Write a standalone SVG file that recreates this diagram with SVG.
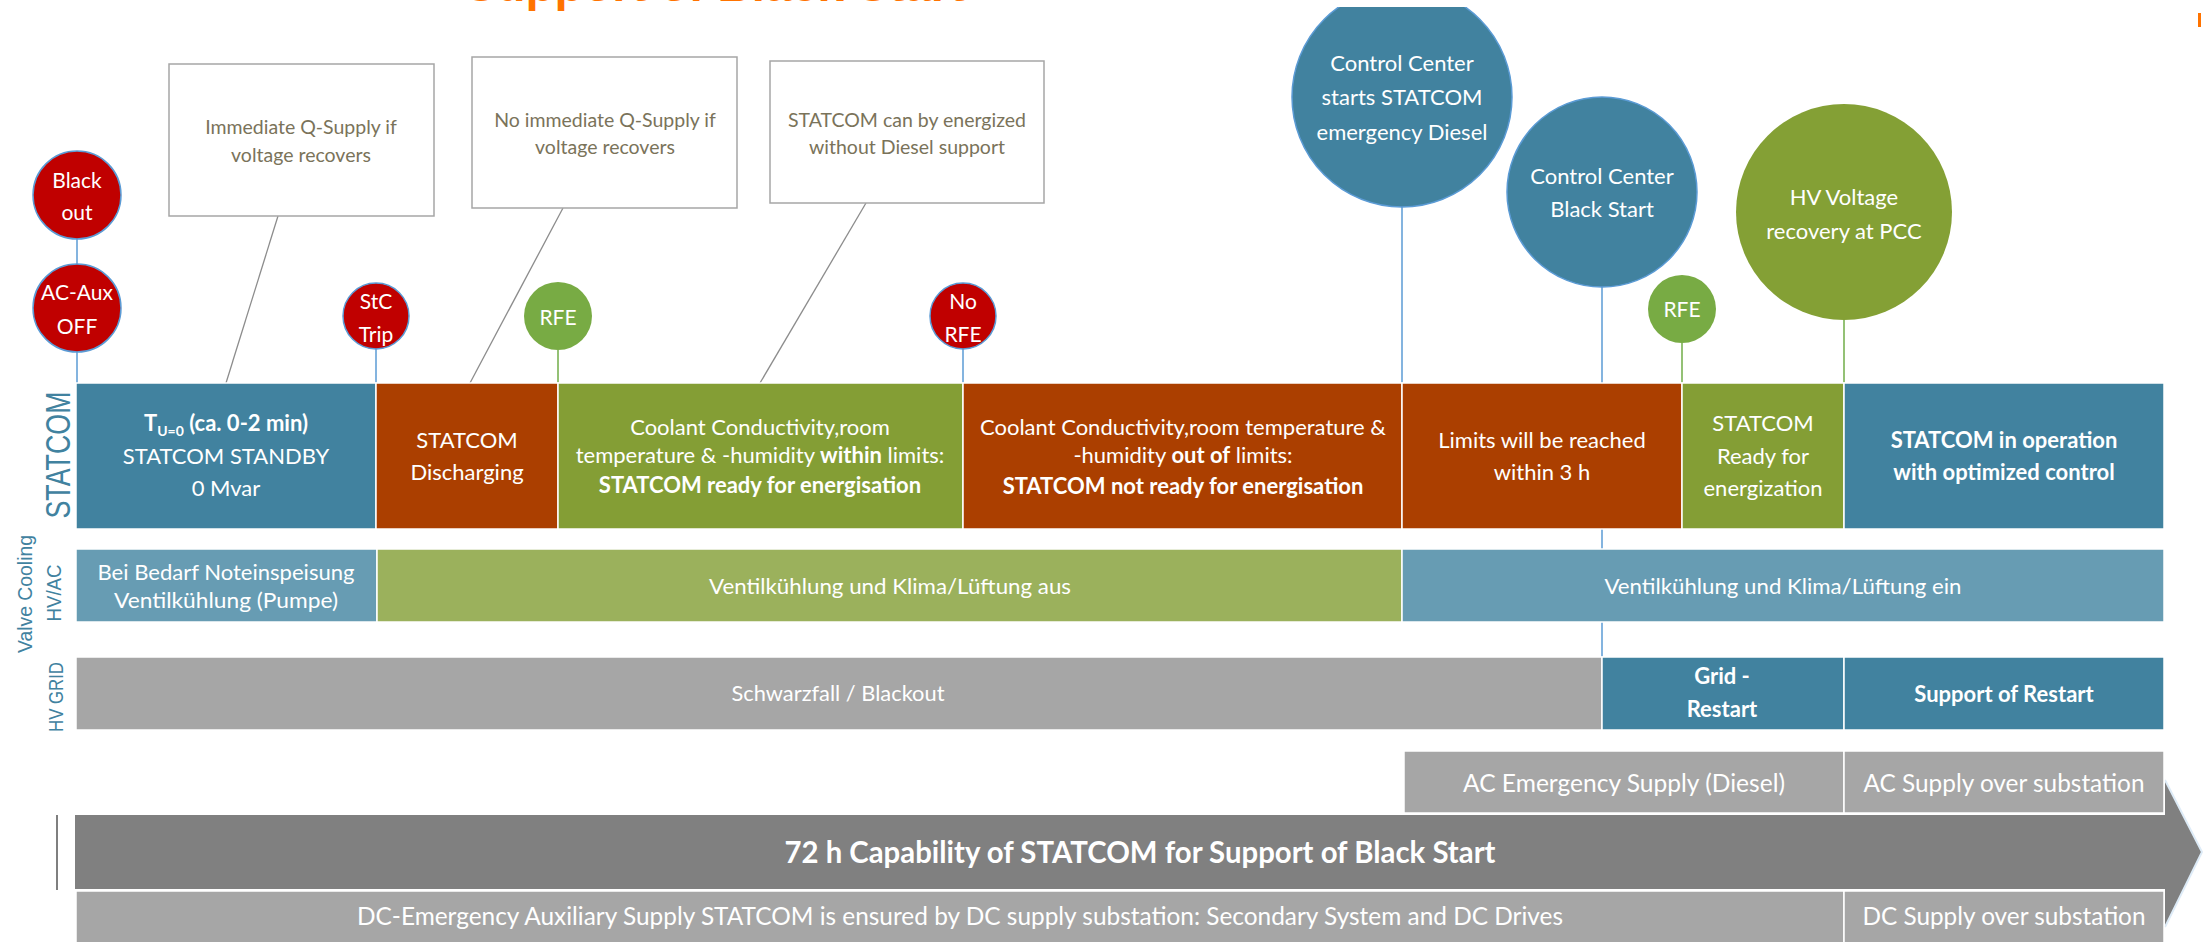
<svg xmlns="http://www.w3.org/2000/svg" width="2208" height="942" viewBox="0 0 2208 942">
<defs>
<style>
.bx{font-family:Lato,'Liberation Sans',sans-serif;fill:#fff;text-anchor:middle}
.s22{font-size:22px}
.s21{font-size:21px}
.s24{font-size:24.5px}
.b{font-weight:bold}
.co{font-family:Lato,'Liberation Sans',sans-serif;font-size:19.5px;fill:#7A735A;text-anchor:middle}
.lbl{font-family:'Liberation Sans',sans-serif;fill:#41829F;text-anchor:middle}
.cbox{fill:#fff;stroke:#A6A6A6;stroke-width:1.5}
.lead{stroke:#8C8C8C;stroke-width:1.3;fill:none}
.blu{stroke:#5B9BD5;stroke-width:1.5;fill:none}
.grn{stroke:#70AD47;stroke-width:1.5;fill:none}
.red{fill:#C00000;stroke:#5B9BD5;stroke-width:1.5}
.rfe{fill:#78AB44}
.bc{fill:#41829F;stroke:#5B9BD5;stroke-width:1.5}
.gc{fill:#84A035}
.cell{stroke:#fff;stroke-width:1.5}
</style>
<clipPath id="topclip"><rect x="0" y="7" width="2208" height="935"/></clipPath>
</defs>
<rect width="2208" height="942" fill="#fff"/>

<g id="title">
<text x="465" y="1" font-family="'Liberation Sans',sans-serif" font-weight="bold" font-size="46" fill="#FF7300" textLength="500" lengthAdjust="spacingAndGlyphs">Support of Black Start</text>
<rect x="2198" y="13" width="3" height="14" fill="#FF7300"/>
</g>

<g id="connectors">
<line class="lead" x1="278" y1="216" x2="226" y2="383"/>
<line class="lead" x1="563" y1="208" x2="470" y2="383"/>
<line class="lead" x1="866" y1="203" x2="760" y2="383"/>
<line class="blu" x1="77" y1="238" x2="77" y2="264"/>
<line class="blu" x1="77" y1="352" x2="77" y2="383"/>
<line class="blu" x1="376" y1="349" x2="376" y2="383"/>
<line class="grn" x1="558" y1="350" x2="558" y2="383"/>
<line class="blu" x1="963" y1="349" x2="963" y2="383"/>
<line class="blu" x1="1402" y1="207" x2="1402" y2="383"/>
<line class="blu" x1="1602" y1="287" x2="1602" y2="657"/>
<line class="grn" x1="1682" y1="343" x2="1682" y2="383"/>
<line class="grn" x1="1844" y1="320" x2="1844" y2="383"/>
</g>

<g id="callout1"><rect class="cbox" x="169" y="64" width="265" height="152"/>
<text class="co" x="301" y="134">Immediate Q-Supply if</text><text class="co" x="301" y="162">voltage recovers</text></g>
<g id="callout2"><rect class="cbox" x="472" y="57" width="265" height="151"/>
<text class="co" x="605" y="127">No immediate Q-Supply if</text><text class="co" x="605" y="154">voltage recovers</text></g>
<g id="callout3"><rect class="cbox" x="770" y="61" width="274" height="142"/>
<text class="co" x="907" y="127">STATCOM can by energized</text><text class="co" x="907" y="154">without Diesel support</text></g>

<g id="ev_blackout"><circle class="red" cx="77" cy="195" r="44"/>
<text class="bx s21" x="77" y="188">Black</text><text class="bx s21" x="77" y="220">out</text></g>
<g id="ev_acaux"><circle class="red" cx="77" cy="308" r="44"/>
<text class="bx s21" x="77" y="300">AC-Aux</text><text class="bx s21" x="77" y="334">OFF</text></g>
<g id="ev_stctrip"><circle class="red" cx="376" cy="316" r="33"/>
<text class="bx s21" x="376" y="309">StC</text><text class="bx s21" x="376" y="342">Trip</text></g>
<g id="ev_rfe1"><circle class="rfe" cx="558" cy="316" r="34"/>
<text class="bx s21" x="558" y="325">RFE</text></g>
<g id="ev_norfe"><circle class="red" cx="963" cy="316" r="33"/>
<text class="bx s21" x="963" y="309">No</text><text class="bx s21" x="963" y="342">RFE</text></g>
<g id="ev_cc_diesel"><circle class="bc" cx="1402" cy="97" r="110" clip-path="url(#topclip)"/>
<text class="bx s22" x="1402" y="71">Control Center</text><text class="bx s22" x="1402" y="105">starts STATCOM</text><text class="bx s22" x="1402" y="140">emergency Diesel</text></g>
<g id="ev_cc_blackstart"><circle class="bc" cx="1602" cy="192" r="95"/>
<text class="bx s22" x="1602" y="184">Control Center</text><text class="bx s22" x="1602" y="217">Black Start</text></g>
<g id="ev_rfe2"><circle class="rfe" cx="1682" cy="309" r="34"/>
<text class="bx s21" x="1682" y="317">RFE</text></g>
<g id="ev_hv_voltage"><circle class="gc" cx="1844" cy="212" r="108"/>
<text class="bx s22" x="1844" y="205">HV Voltage</text><text class="bx s22" x="1844" y="239">recovery at PCC</text></g>

<g id="row_labels">
<text class="lbl" transform="translate(70,455) rotate(-90)" font-size="35" textLength="127" lengthAdjust="spacingAndGlyphs">STATCOM</text>
<text class="lbl" transform="translate(32,594) rotate(-90)" font-size="21" textLength="118" lengthAdjust="spacingAndGlyphs">Valve Cooling</text>
<text class="lbl" transform="translate(61,593) rotate(-90)" font-size="21" textLength="57" lengthAdjust="spacingAndGlyphs">HV/AC</text>
<text class="lbl" transform="translate(63,697) rotate(-90)" font-size="20" textLength="70" lengthAdjust="spacingAndGlyphs">HV GRID</text>
</g>

<g id="st1"><rect class="cell" x="76" y="383" width="300" height="146" fill="#41829F"/>
<text class="bx s22 b" x="226" y="431">T<tspan font-size="14" dy="5">U=0</tspan><tspan dy="-5"> (ca. 0-2 min)</tspan></text>
<text class="bx s22" x="226" y="464">STATCOM STANDBY</text><text class="bx s22" x="226" y="496">0 Mvar</text></g>
<g id="st2"><rect class="cell" x="376" y="383" width="182" height="146" fill="#AB3F00"/>
<text class="bx s22" x="467" y="448">STATCOM</text><text class="bx s22" x="467" y="480">Discharging</text></g>
<g id="st3"><rect class="cell" x="558" y="383" width="405" height="146" fill="#849E35"/>
<text class="bx s22" x="760" y="435">Coolant Conductivity,room</text>
<text class="bx s22" x="760" y="463">temperature &amp; -humidity <tspan class="b">within</tspan> limits:</text>
<text class="bx s22 b" x="760" y="493">STATCOM ready for energisation</text></g>
<g id="st4"><rect class="cell" x="963" y="383" width="439" height="146" fill="#AB3F00"/>
<text class="bx s22" x="1183" y="435">Coolant Conductivity,room temperature &amp;</text>
<text class="bx s22" x="1183" y="463">-humidity <tspan class="b">out of</tspan> limits:</text>
<text class="bx s22 b" x="1183" y="494">STATCOM not ready for energisation</text></g>
<g id="st5"><rect class="cell" x="1402" y="383" width="280" height="146" fill="#AB3F00"/>
<text class="bx s22" x="1542" y="448">Limits will be reached</text><text class="bx s22" x="1542" y="480">within 3 h</text></g>
<g id="st6"><rect class="cell" x="1682" y="383" width="162" height="146" fill="#849E35"/>
<text class="bx s22" x="1763" y="431">STATCOM</text><text class="bx s22" x="1763" y="464">Ready for</text><text class="bx s22" x="1763" y="496">energization</text></g>
<g id="st7"><rect class="cell" x="1844" y="383" width="320" height="146" fill="#41829F"/>
<text class="bx s22 b" x="2004" y="448">STATCOM in operation</text><text class="bx s22 b" x="2004" y="480">with optimized control</text></g>

<g id="vc1"><rect class="cell" x="76" y="549" width="301" height="73" fill="#679CB3"/>
<text class="bx s22" x="226" y="580" textLength="257" lengthAdjust="spacingAndGlyphs">Bei Bedarf Noteinspeisung</text><text class="bx s22" x="226" y="608" textLength="224" lengthAdjust="spacingAndGlyphs">Ventilkühlung (Pumpe)</text></g>
<g id="vc2"><rect class="cell" x="377" y="549" width="1025" height="73" fill="#9BB15C"/>
<text class="bx s22" x="890" y="594" textLength="362" lengthAdjust="spacingAndGlyphs">Ventilkühlung und Klima/Lüftung aus</text></g>
<g id="vc3"><rect class="cell" x="1402" y="549" width="762" height="73" fill="#679CB3"/>
<text class="bx s22" x="1783" y="594" textLength="357" lengthAdjust="spacingAndGlyphs">Ventilkühlung und Klima/Lüftung ein</text></g>

<g id="hv1"><rect class="cell" x="76" y="657" width="1526" height="73" fill="#A6A6A6"/>
<text class="bx s22" x="838" y="701" textLength="213" lengthAdjust="spacingAndGlyphs">Schwarzfall / Blackout</text></g>
<g id="hv2"><rect class="cell" x="1602" y="657" width="242" height="73" fill="#41829F"/>
<text class="bx s22 b" x="1722" y="684">Grid -</text><text class="bx s22 b" x="1722" y="717">Restart</text></g>
<g id="hv3"><rect class="cell" x="1844" y="657" width="320" height="73" fill="#41829F"/>
<text class="bx s22 b" x="2004" y="702">Support of Restart</text></g>

<g id="capability">
<polygon points="75,815 2165,815 2165,780 2202,852 2165,927 2165,889 75,889" fill="#808080"/>
<polyline points="2165,780 2202,852 2165,927" fill="none" stroke="#DDEBF7" stroke-width="2"/>
<line x1="57" y1="815" x2="57" y2="890" stroke="#7F7F7F" stroke-width="2"/>
<text class="bx b" font-size="29.5" x="1140" y="863" textLength="711" lengthAdjust="spacingAndGlyphs">72 h Capability of STATCOM for Support of Black Start</text>
</g>

<g id="ac1"><rect class="cell" x="1404" y="751" width="440" height="62" fill="#A6A6A6"/>
<text class="bx s24" x="1624" y="792" textLength="322" lengthAdjust="spacingAndGlyphs">AC Emergency Supply (Diesel)</text></g>
<g id="ac2"><rect class="cell" x="1844" y="751" width="320" height="62" fill="#A6A6A6"/>
<text class="bx s24" x="2004" y="792" textLength="281" lengthAdjust="spacingAndGlyphs">AC Supply over substation</text></g>

<g id="dc1"><rect class="cell" x="76" y="891" width="1768" height="60" fill="#A6A6A6"/>
<text class="bx s24" x="960" y="925" textLength="1206" lengthAdjust="spacingAndGlyphs">DC-Emergency Auxiliary Supply STATCOM is ensured by DC supply substation: Secondary System and  DC Drives</text></g>
<g id="dc2"><rect class="cell" x="1844" y="891" width="320" height="60" fill="#A6A6A6"/>
<text class="bx s24" x="2004" y="925" textLength="283" lengthAdjust="spacingAndGlyphs">DC Supply over substation</text></g>
</svg>
